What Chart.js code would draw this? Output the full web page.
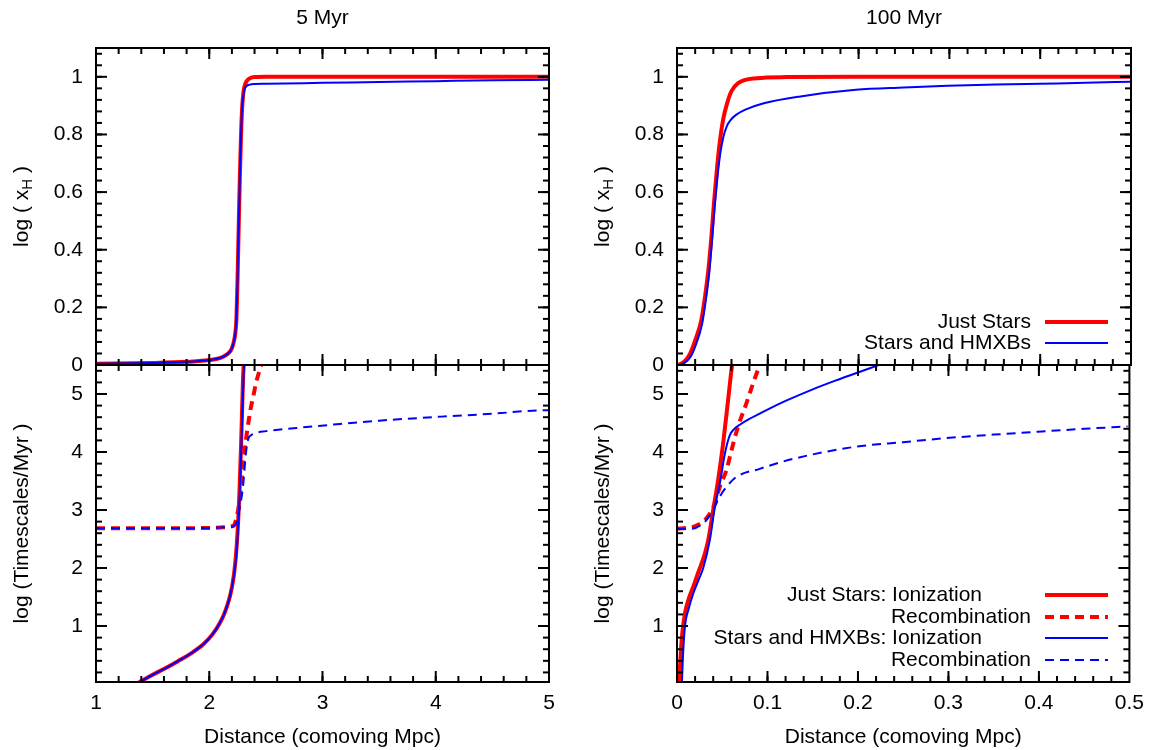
<!DOCTYPE html>
<html>
<head>
<meta charset="utf-8">
<script src="https://cdn.jsdelivr.net/npm/chart.js@4.4.1/dist/chart.umd.min.js"></script>
<style>
  html, body { margin: 0; padding: 0; background: #ffffff; }
  #wrap { position: relative; width: 1153px; height: 750px; overflow: hidden; background: #fff; }
  #wrap canvas { position: absolute; left: 0; top: 0; }
</style>
</head>
<body>
<div id="wrap">
  <canvas id="cTL" width="1153" height="750"></canvas>
  <canvas id="cBL" width="1153" height="750"></canvas>
  <canvas id="cTR" width="1153" height="750"></canvas>
  <canvas id="cBR" width="1153" height="750"></canvas>
</div>
<script>
// ---------------- text ----------------
const panelTitles = ['5 Myr', '100 Myr'];
const xAxisTitle = 'Distance (comoving Mpc)';
const yTitleTopParts = ['log ( x', 'H', ' )'];
const yTitleBottom = 'log (Timescales/Myr )';
const namesTop = ['Just Stars', 'Stars and HMXBs'];
const namesBottom = ['Just Stars: Ionization', 'Recombination', 'Stars and HMXBs: Ionization', 'Recombination'];

// ---------------- ticks ----------------
const xTicks5 = [1, 2, 3, 4, 5];
const xTickLabels5 = ['1', '2', '3', '4', '5'];
const xTicks100 = [0, 0.1, 0.2, 0.3, 0.4, 0.5];
const xTickLabels100 = ['0', '0.1', '0.2', '0.3', '0.4', '0.5'];
const yTicksXH = [0, 0.2, 0.4, 0.6, 0.8, 1];
const yTickLabelsXH = ['0', '0.2', '0.4', '0.6', '0.8', '1'];
const yTicksTS = [1, 2, 3, 4, 5];
const yTickLabelsTS = ['1', '2', '3', '4', '5'];

// ---------------- data: 5 Myr, log(x_H) ----------------
const tlStarsX = [1.0, 1.5, 1.8, 2.0, 2.1, 2.15, 2.19, 2.21, 2.23, 2.24, 2.25, 2.26, 2.27, 2.28, 2.29, 2.30, 2.31, 2.33, 2.36, 2.4, 2.5, 3.0, 4.0, 5.0];
const tlStarsY = [0.004, 0.007, 0.011, 0.017, 0.025, 0.035, 0.05, 0.07, 0.11, 0.16, 0.3, 0.48, 0.65, 0.79, 0.89, 0.94, 0.965, 0.985, 0.995, 0.999, 1.0, 1.0, 1.0, 1.0];
const tlHmxbX = [1.0, 1.5, 1.8, 2.0, 2.1, 2.15, 2.19, 2.21, 2.23, 2.24, 2.25, 2.26, 2.27, 2.28, 2.29, 2.30, 2.31, 2.33, 2.36, 2.4, 2.5, 3.0, 3.5, 4.0, 4.5, 5.0];
const tlHmxbY = [0.004, 0.007, 0.011, 0.017, 0.025, 0.035, 0.05, 0.07, 0.11, 0.16, 0.3, 0.48, 0.65, 0.79, 0.89, 0.93, 0.955, 0.968, 0.973, 0.975, 0.976, 0.979, 0.982, 0.985, 0.988, 0.99];

// ---------------- data: 5 Myr, timescales ----------------
const blStarsIonX = [1.38, 1.5, 1.62, 1.72, 1.84, 1.95, 2.03, 2.09, 2.13, 2.16, 2.185, 2.205, 2.22, 2.235, 2.25, 2.265, 2.281, 2.298, 2.304, 2.31];
const blStarsIonY = [0.03, 0.16, 0.28, 0.39, 0.53, 0.69, 0.86, 1.04, 1.2, 1.36, 1.53, 1.72, 1.92, 2.2, 2.62, 3.22, 4.12, 5.25, 5.5, 5.7];
const blStarsRecX = [1.0, 1.5, 2.0, 2.1, 2.2, 2.22, 2.249, 2.265, 2.281, 2.30, 2.324, 2.345, 2.363, 2.39, 2.412, 2.44, 2.46, 2.47];
const blStarsRecY = [2.684, 2.685, 2.69, 2.70, 2.72, 2.74, 2.94, 3.12, 3.40, 3.80, 4.21, 4.5, 4.72, 4.97, 5.18, 5.38, 5.5, 5.56];
const blHmxbIonX = [1.38, 1.5, 1.62, 1.72, 1.84, 1.95, 2.03, 2.09, 2.13, 2.16, 2.185, 2.205, 2.222, 2.238, 2.253, 2.268, 2.284, 2.302, 2.308, 2.314];
const blHmxbIonY = [0.03, 0.16, 0.28, 0.39, 0.53, 0.69, 0.86, 1.04, 1.2, 1.36, 1.53, 1.72, 1.92, 2.2, 2.62, 3.22, 4.12, 5.25, 5.5, 5.7];
const blHmxbRecX = [1.0, 1.5, 2.0, 2.1, 2.2, 2.22, 2.24, 2.265, 2.298, 2.324, 2.347, 2.37, 2.395, 2.5, 2.59, 2.8, 3.08, 3.5, 4.05, 4.5, 4.965, 5.0];
const blHmxbRecY = [2.684, 2.685, 2.69, 2.70, 2.71, 2.73, 2.78, 3.0, 3.40, 3.98, 4.24, 4.29, 4.32, 4.36, 4.38, 4.42, 4.47, 4.54, 4.61, 4.66, 4.72, 4.72];

// ---------------- data: 100 Myr, log(x_H) ----------------
const trStarsX = [0, 0.005, 0.01, 0.0146, 0.02, 0.0268, 0.031, 0.0349, 0.038, 0.041, 0.044, 0.047, 0.051, 0.0552, 0.06, 0.0673, 0.0876, 0.12, 0.2, 0.3, 0.4, 0.5];
const trStarsY = [0, 0.005, 0.018, 0.04, 0.085, 0.156, 0.24, 0.34, 0.45, 0.573, 0.68, 0.77, 0.855, 0.908, 0.95, 0.978, 0.995, 0.999, 1, 1, 1, 1];
const trHmxbX = [0.002, 0.006, 0.011, 0.016, 0.021, 0.0275, 0.0315, 0.0355, 0.0385, 0.0415, 0.0445, 0.0475, 0.051, 0.055, 0.059, 0.065, 0.0753, 0.0956, 0.136, 0.197, 0.25, 0.298, 0.35, 0.399, 0.45, 0.5];
const trHmxbY = [0, 0.004, 0.014, 0.034, 0.072, 0.14, 0.22, 0.32, 0.43, 0.55, 0.65, 0.73, 0.79, 0.83, 0.85, 0.868, 0.886, 0.908, 0.932, 0.955, 0.963, 0.969, 0.973, 0.976, 0.979, 0.983];

// ---------------- data: 100 Myr, timescales ----------------
const brStarsIonX = [0.0025, 0.0035, 0.0045, 0.006, 0.0088, 0.013, 0.018, 0.0225, 0.0272, 0.031, 0.0345, 0.040, 0.0455, 0.051, 0.0565, 0.0609, 0.063];
const brStarsIonY = [0.04, 0.35, 0.62, 0.9, 1.22, 1.47, 1.68, 1.88, 2.08, 2.26, 2.48, 3.0, 3.52, 4.15, 4.9, 5.5, 5.7];
const brStarsRecX = [0, 0.01, 0.018, 0.024, 0.029, 0.0363, 0.0418, 0.0473, 0.0547, 0.0602, 0.0675, 0.0767, 0.084, 0.0914, 0.095];
const brStarsRecY = [2.68, 2.69, 2.71, 2.75, 2.8, 2.94, 3.11, 3.4, 3.69, 4.03, 4.44, 4.84, 5.18, 5.5, 5.65];
const brHmxbIonX = [0.0055, 0.0065, 0.0088, 0.013, 0.018, 0.024, 0.029, 0.0363, 0.0418, 0.0473, 0.0529, 0.0584, 0.0634, 0.0694, 0.08, 0.0914, 0.1, 0.12, 0.15, 0.175, 0.2, 0.223, 0.23];
const brHmxbIonY = [0.04, 0.45, 0.99, 1.3, 1.56, 1.8, 2.0, 2.48, 3.05, 3.45, 3.97, 4.29, 4.4, 4.47, 4.57, 4.66, 4.73, 4.88, 5.08, 5.23, 5.37, 5.5, 5.54];
const brHmxbRecX = [0, 0.01, 0.018, 0.026, 0.0327, 0.040, 0.0473, 0.0547, 0.0657, 0.0914, 0.128, 0.197, 0.25, 0.298, 0.35, 0.399, 0.45, 0.498];
const brHmxbRecY = [2.67, 2.675, 2.68, 2.74, 2.83, 3.0, 3.23, 3.4, 3.57, 3.71, 3.88, 4.09, 4.17, 4.24, 4.3, 4.35, 4.4, 4.44];

// ---------------- rendering ----------------
const FONT = "'Liberation Sans', Arial, Helvetica, sans-serif";
const FS = 21;
const RED = '#ff0000';
const BLUE = '#0000ff';
const CW = 1153, CH = 750;
const Y_AXIS_W = 60;
const X_AXIS_H = 68;

Chart.defaults.font.family = FONT;
Chart.defaults.font.size = FS;
Chart.defaults.color = '#000';

function pts(xs, ys) { return xs.map((x, i) => ({ x: x, y: ys[i] })); }

function series(label, xs, ys, color, width, dash, order) {
  return {
    label: label,
    data: pts(xs, ys),
    borderColor: color,
    backgroundColor: color,
    borderWidth: width,
    borderDash: dash || [],
    pointRadius: 0,
    fill: false,
    order: order,
    cubicInterpolationMode: 'monotone',
    borderCapStyle: 'butt',
    borderJoinStyle: 'round'
  };
}

function line(ctx, x0, y0, x1, y1) {
  ctx.beginPath(); ctx.moveTo(x0, y0); ctx.lineTo(x1, y1); ctx.stroke();
}

function minorValues(min, max, step) {
  const out = [];
  const k0 = Math.ceil(min / step - 1e-9);
  for (let k = k0; k * step <= max + 1e-9; k++) out.push(k * step);
  return out;
}

const framePlugin = {
  id: 'frame',
  afterDatasetsDraw(chart, args, o) {
    const ctx = chart.ctx, a = chart.chartArea;
    const xs = chart.scales.x, ys = chart.scales.y;
    ctx.save();
    ctx.strokeStyle = '#000';
    ctx.lineWidth = 2;
    ctx.lineCap = 'butt';
    const MAJ = 11, MIN = 6;
    const xDo = (vals, len) => vals.forEach(v => {
      const p = xs.getPixelForValue(v);
      if (p < a.left + 1 || p > a.right - 1) return;
      line(ctx, p, a.bottom, p, a.bottom - len);
      line(ctx, p, a.top, p, a.top + len);
    });
    const yDo = (vals, len) => vals.forEach(v => {
      const p = ys.getPixelForValue(v);
      if (p < a.top + 1 || p > a.bottom - 1) return;
      line(ctx, a.left, p, a.left + len, p);
      line(ctx, a.right, p, a.right - len, p);
    });
    xDo(minorValues(xs.min, xs.max, o.xMinor), MIN);
    xDo(o.xMajor, MAJ);
    yDo(minorValues(ys.min, ys.max, o.yMinor), MIN);
    yDo(o.yMajor, MAJ);
    ctx.strokeRect(a.left, a.top, a.right - a.left, a.bottom - a.top);

    ctx.fillStyle = '#000';
    const cx = (a.left + a.right) / 2, cy = (a.top + a.bottom) / 2;
    ctx.font = FS + 'px ' + FONT;
    ctx.textBaseline = 'middle';
    if (o.title) {
      ctx.textAlign = 'center';
      ctx.fillText(o.title, cx, a.top - 30);
    }
    if (o.xTitle) {
      ctx.textAlign = 'center';
      ctx.fillText(o.xTitle, cx, a.bottom + 55);
    }
    if (o.yTitleParts) {
      ctx.save();
      ctx.translate(a.left - 74, cy);
      ctx.rotate(-Math.PI / 2);
      const big = FS + 'px ' + FONT, small = Math.round(FS * 0.72) + 'px ' + FONT;
      ctx.font = big; const w0 = ctx.measureText(o.yTitleParts[0]).width;
      const w2 = ctx.measureText(o.yTitleParts[2]).width;
      ctx.font = small; const w1 = ctx.measureText(o.yTitleParts[1]).width;
      let x = -(w0 + w1 + w2) / 2;
      ctx.textAlign = 'left';
      ctx.font = big; ctx.fillText(o.yTitleParts[0], x, 0); x += w0;
      ctx.font = small; ctx.fillText(o.yTitleParts[1], x, 6); x += w1;
      ctx.font = big; ctx.fillText(o.yTitleParts[2], x, 0);
      ctx.restore();
    } else if (o.yTitle) {
      ctx.save();
      ctx.translate(a.left - 74, cy);
      ctx.rotate(-Math.PI / 2);
      ctx.textAlign = 'center';
      ctx.fillText(o.yTitle, 0, 0);
      ctx.restore();
    }
    if (o.legend) {
      const L = o.legend;
      chart.data.datasets.forEach((ds, i) => {
        const y = L.rows[i];
        ctx.font = FS + 'px ' + FONT;
        ctx.textAlign = 'right';
        ctx.textBaseline = 'middle';
        ctx.fillStyle = '#000';
        ctx.fillText(ds.label, L.textRight[i], y);
        ctx.save();
        ctx.strokeStyle = ds.borderColor;
        ctx.lineWidth = ds.borderWidth;
        ctx.setLineDash(ds.borderDash || []);
        line(ctx, L.x0, y, L.x1, y);
        ctx.restore();
      });
    }
    ctx.restore();
  }
};

function makeChart(id, box, xCfg, yCfg, datasets, frameOpts, showXLabels) {
  const [L, T, R, B] = box;
  const xh = showXLabels ? X_AXIS_H : 0;
  return new Chart(document.getElementById(id), {
    type: 'line',
    data: { datasets: datasets },
    plugins: [framePlugin],
    options: {
      responsive: false,
      maintainAspectRatio: false,
      devicePixelRatio: 1,
      animation: false,
      events: [],
      layout: { padding: { left: L - Y_AXIS_W, top: T, right: CW - R, bottom: CH - B - xh } },
      plugins: {
        legend: { display: false },
        tooltip: { enabled: false },
        title: { display: false },
        frame: Object.assign({ xMajor: xCfg.ticks, yMajor: yCfg.ticks, xMinor: xCfg.minor, yMinor: yCfg.minor }, frameOpts)
      },
      scales: {
        x: {
          type: 'linear', position: 'bottom', min: xCfg.min, max: xCfg.max,
          grid: { display: false, drawTicks: false },
          border: { display: false },
          afterBuildTicks: s => { s.ticks = xCfg.ticks.map(v => ({ value: v })); },
          afterFit: s => { s.height = xh; },
          ticks: {
            display: showXLabels, padding: 9, maxRotation: 0, autoSkip: false,
            font: { size: FS, family: FONT }, color: '#000',
            callback: (v, i) => xCfg.labels[i]
          }
        },
        y: {
          type: 'linear', position: 'left', min: yCfg.min, max: yCfg.max,
          grid: { display: false, drawTicks: false },
          border: { display: false },
          afterBuildTicks: s => { s.ticks = yCfg.ticks.map(v => ({ value: v })); },
          afterFit: s => { s.width = Y_AXIS_W; },
          ticks: {
            display: true, padding: 13, autoSkip: false,
            font: { size: FS, family: FONT }, color: '#000',
            callback: (v, i) => yCfg.labels[i]
          }
        }
      }
    }
  });
}

const x5 = { min: 1, max: 5, ticks: xTicks5, labels: xTickLabels5, minor: 0.2 };
const x100 = { min: 0, max: 0.5, ticks: xTicks100, labels: xTickLabels100, minor: 0.02 };
const yXH = { min: 0, max: 1.1, ticks: yTicksXH, labels: yTickLabelsXH, minor: 0.04 };
const yTS = { min: 0.035, max: 5.5, ticks: yTicksTS, labels: yTickLabelsTS, minor: 0.2 };

const DASH = [9, 6];

// order: larger values are drawn first (underneath); blue sits on top of red
makeChart('cTL', [96, 48, 549, 365], x5, yXH, [
  series(namesTop[0], tlStarsX, tlStarsY, RED, 4, null, 2),
  series(namesTop[1], tlHmxbX, tlHmxbY, BLUE, 2, null, 1)
], { title: panelTitles[0], yTitleParts: yTitleTopParts }, false);

makeChart('cBL', [96, 365, 549, 682], x5, yTS, [
  series(namesBottom[0], blStarsIonX, blStarsIonY, RED, 4, null, 4),
  series(namesBottom[1], blStarsRecX, blStarsRecY, RED, 4, DASH, 3),
  series(namesBottom[2], blHmxbIonX, blHmxbIonY, BLUE, 2, null, 2),
  series(namesBottom[3], blHmxbRecX, blHmxbRecY, BLUE, 2, DASH, 1)
], { xTitle: xAxisTitle, yTitle: yTitleBottom }, true);

makeChart('cTR', [677, 48, 1131, 365], x100, yXH, [
  series(namesTop[0], trStarsX, trStarsY, RED, 4, null, 2),
  series(namesTop[1], trHmxbX, trHmxbY, BLUE, 2, null, 1)
], { title: panelTitles[1], yTitleParts: yTitleTopParts,
     legend: { rows: [322, 343], textRight: [1031, 1031], x0: 1045, x1: 1108 } }, false);

makeChart('cBR', [677, 365, 1131, 682], x100, yTS, [
  series(namesBottom[0], brStarsIonX, brStarsIonY, RED, 4, null, 4),
  series(namesBottom[1], brStarsRecX, brStarsRecY, RED, 4, DASH, 3),
  series(namesBottom[2], brHmxbIonX, brHmxbIonY, BLUE, 2, null, 2),
  series(namesBottom[3], brHmxbRecX, brHmxbRecY, BLUE, 2, DASH, 1)
], { xTitle: xAxisTitle, yTitle: yTitleBottom,
     legend: { rows: [595, 617, 638, 660], textRight: [982, 1031, 982, 1031], x0: 1045, x1: 1108 } }, true);
</script>
</body>
</html>
